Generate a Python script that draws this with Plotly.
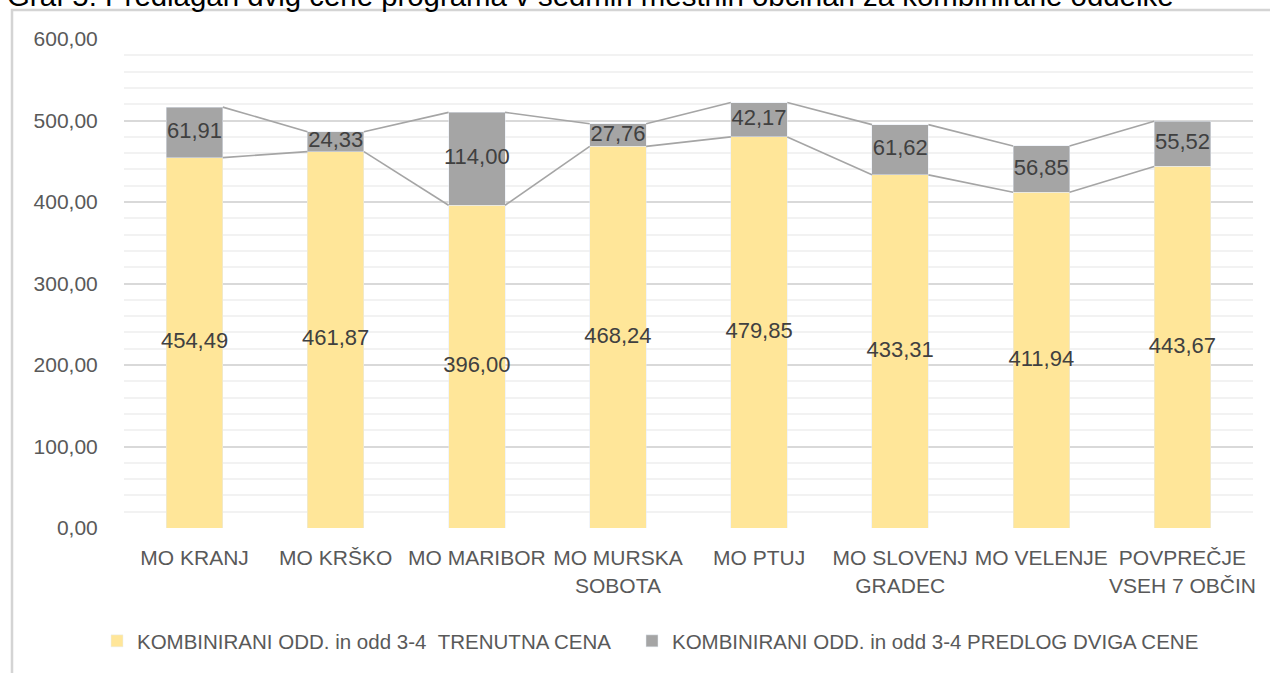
import plotly.graph_objects as go

categories = ["MO KRANJ", "MO KRŠKO", "MO MARIBOR", "MO MURSKA<br>SOBOTA", "MO PTUJ",
              "MO SLOVENJ<br>GRADEC", "MO VELENJE", "POVPREČJE<br>VSEH 7 OBČIN"]
current_price = [454.49, 461.87, 396.00, 468.24, 479.85, 433.31, 411.94, 443.67]
price_increase = [61.91, 24.33, 114.00, 27.76, 42.17, 61.62, 56.85, 55.52]
name_current = "KOMBINIRANI ODD. in odd 3-4\u00a0\u00a0TRENUTNA CENA"
name_increase = "KOMBINIRANI ODD. in odd 3-4 PREDLOG DVIGA CENE"
title_text = "Graf 5: Predlagan dvig cene programa v sedmih mestnih občinah za kombinirane oddelke"
y_ticks = [0, 100, 200, 300, 400, 500, 600]

YELLOW = "#FFE699"
GREY = "#A5A5A5"
FONT = "Liberation Sans"
BAR_W = 0.4

xs = list(range(len(categories)))
totals = [c + p for c, p in zip(current_price, price_increase)]

L, R, T, B = 124, 17, 39, 145
W, H = 1270, 673
pw, ph = W - L - R, H - T - B


def px_x(p):
    return (p - L) / pw


def px_y(p):
    return (T + ph - p) / ph


fig = go.Figure()
fig.add_trace(go.Bar(x=xs, y=current_price, width=BAR_W, marker_color=YELLOW,
                     name=name_current, hoverinfo="skip", legend="legend"))
fig.add_trace(go.Bar(x=xs, y=price_increase, width=BAR_W, marker_color=GREY,
                     name=name_increase, hoverinfo="skip", legend="legend2"))


# series lines between bar edges
def series_line(vals):
    lx, ly = [], []
    for i in range(len(vals) - 1):
        lx += [xs[i] + BAR_W / 2, xs[i + 1] - BAR_W / 2, None]
        ly += [vals[i], vals[i + 1], None]
    return lx, ly


for vals in (current_price, totals):
    lx, ly = series_line(vals)
    fig.add_trace(go.Scatter(x=lx, y=ly, mode="lines", line=dict(color=GREY, width=1.6),
                             showlegend=False, hoverinfo="skip"))

# data labels
fig.add_trace(go.Scatter(x=xs, y=[c / 2 for c in current_price], mode="text",
                         text=[f"{v:.2f}".replace(".", ",") for v in current_price],
                         textfont=dict(family=FONT, size=22, color="#404040"),
                         showlegend=False, hoverinfo="skip"))
fig.add_trace(go.Scatter(x=xs, y=[c + p / 2 for c, p in zip(current_price, price_increase)],
                         mode="text",
                         text=[f"{v:.2f}".replace(".", ",") for v in price_increase],
                         textfont=dict(family=FONT, size=22, color="#404040"),
                         showlegend=False, hoverinfo="skip"))

legend_font = dict(family=FONT, size=20.5, color="#595959")
fig.update_layout(
    width=W, height=H, barmode="stack", separators=",.",
    margin=dict(l=L, r=R, t=T, b=B, pad=0, autoexpand=False),
    paper_bgcolor="white", plot_bgcolor="white",
    font=dict(family=FONT, size=21, color="#595959"),
    xaxis=dict(range=[-0.5, len(categories) - 0.5], tickvals=xs, ticktext=categories,
               tickangle=0, automargin=False,
               showgrid=False, zeroline=False, showline=False, ticks="outside",
               ticklen=11, tickcolor="rgba(0,0,0,0)",
               tickfont=dict(family=FONT, size=21, color="#595959"), fixedrange=True),
    yaxis=dict(range=[0, 600], tickvals=y_ticks, tickformat=".2f", showgrid=True,
               automargin=False,
               gridcolor="#D9D9D9", gridwidth=1.5, zeroline=False, showline=False,
               ticks="outside", ticklen=21, tickcolor="rgba(0,0,0,0)",
               minor=dict(dtick=20, showgrid=True, gridcolor="#F2F2F2", gridwidth=1.5,
                          ticks=""),
               tickfont=dict(family=FONT, size=21, color="#595959"), fixedrange=True),
    legend=dict(orientation="h", x=px_x(97), xanchor="left", y=px_y(641),
                yanchor="middle", font=legend_font, bgcolor="rgba(0,0,0,0)"),
    legend2=dict(orientation="h", x=px_x(632), xanchor="left", y=px_y(641),
                 yanchor="middle", font=legend_font, bgcolor="rgba(0,0,0,0)"),
    showlegend=True,
)

# chart area border (partially visible)
fig.add_shape(type="rect", xref="paper", yref="paper",
              x0=px_x(12), x1=px_x(W + 50), y0=px_y(H + 50), y1=px_y(10),
              line=dict(color="#D4D4D4", width=2.5), fillcolor="rgba(0,0,0,0)", layer="below")

# document caption, cut off at the top
fig.add_annotation(text=title_text, xref="paper", yref="paper", x=px_x(5), xanchor="left",
                   y=1, yanchor="bottom", yshift=T - 14.5, showarrow=False,
                   font=dict(family="Liberation Sans", size=29.4, color="black"))

fig.write_html("out.html", config={"displayModeBar": False},
               post_script="document.body.style.margin='0';")
